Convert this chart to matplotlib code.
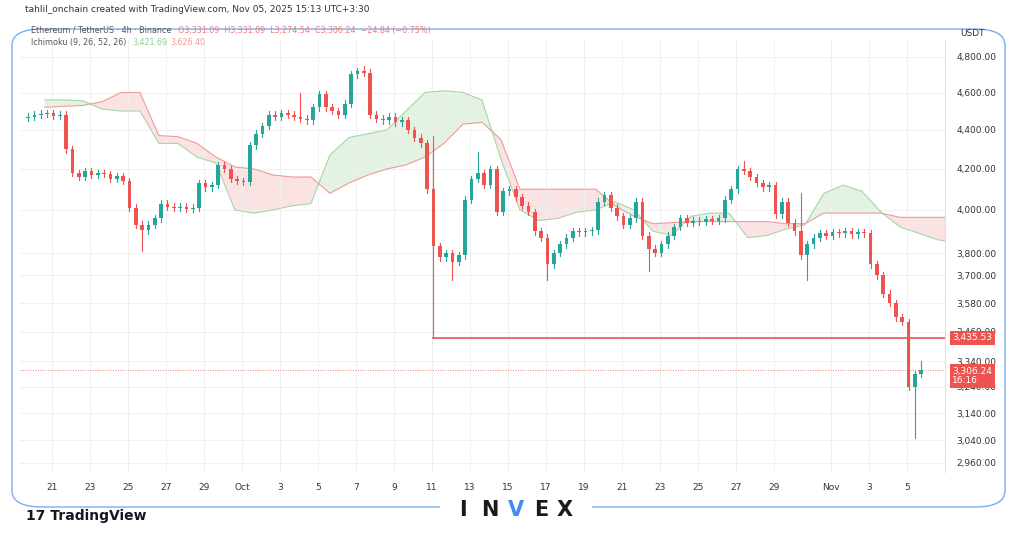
import matplotlib.pyplot as plt
import numpy as np
from matplotlib.patches import FancyBboxPatch, Rectangle
from matplotlib.ticker import FixedLocator, NullLocator

UP = "#26a69a"
DOWN = "#ef5350"

# 8h closes, Sep 19.6 -> Nov 5
closes = [
    4470, 4480, 4485, 4490, 4475, 4480, 4300, 4180, 4160, 4190, 4170, 4180,
    4175, 4150, 4165, 4140, 4010, 3930, 3905, 3930, 3960, 4030, 4015, 4010,
    4015, 4005, 4010, 4130, 4110, 4120, 4220, 4200, 4150, 4140, 4135, 4320,
    4380, 4420, 4480, 4470, 4490, 4480, 4470, 4460, 4450, 4520, 4590, 4520,
    4500, 4480, 4540, 4700, 4720, 4710, 4480, 4460, 4450, 4470, 4440, 4450,
    4400, 4360, 4330, 4100, 3830, 3780, 3800, 3760, 3790, 4050, 4150, 4180,
    4120, 4200, 3990, 4090, 4100, 4060, 4020, 3990, 3900, 3870, 3750, 3800,
    3840, 3870, 3900, 3895, 3900, 3905, 4040, 4070, 4010, 3970, 3930, 3960,
    4040, 3880, 3820, 3800, 3840, 3880, 3920, 3960, 3940, 3950, 3945, 3955,
    3950, 3960, 4050, 4100, 4200, 4190, 4160, 4130, 4110, 4120, 3980, 4040,
    3940, 3900, 3790, 3840, 3870, 3890, 3880, 3895, 3890, 3900, 3885, 3895,
    3890, 3750, 3700, 3620, 3580, 3520, 3500, 3240, 3290, 3306.24,
]
first_open = 4465
# notable wick extremes (candle index -> price)
wick_highs = {43: 4600, 53: 4750, 64: 4370, 71: 4285, 113: 4240, 122: 4080, 141: 3340}
wick_lows = {18: 3810, 64: 3435, 67: 3680, 82: 3680, 98: 3720, 123: 3680, 140: 3050}

# ichimoku cloud, sampled once a day
cloud_days = [-10.37 + k for k in range(48)] + [37.0]
span_a = [4560, 4560, 4555, 4510, 4500, 4500, 4330, 4330, 4260, 4230, 4000, 3985,
          4000, 4020, 4030, 4270, 4360, 4380, 4400, 4500, 4600, 4610, 4600, 4560,
          4250, 4000, 3950, 3960, 3990, 4000, 4040, 4000, 3900, 3880, 3970, 3985,
          3985, 3870, 3880, 3910, 3930, 4080, 4120, 4090, 3990, 3920, 3890, 3860, 3855]
span_b = [4520, 4525, 4530, 4550, 4600, 4600, 4370, 4365, 4330, 4260, 4210, 4200,
          4170, 4160, 4160, 4080, 4130, 4170, 4200, 4220, 4260, 4330, 4430, 4440,
          4350, 4100, 4100, 4100, 4100, 4100, 4020, 3970, 3935, 3940, 3945, 3945,
          3945, 3945, 3945, 3935, 3935, 3985, 3985, 3985, 3985, 3965, 3965, 3965, 3965]

y_ticks = [4800, 4600, 4400, 4200, 4000, 3800, 3700, 3580, 3460, 3340, 3240, 3140, 3040, 2960]
x_tick_days = [-10, -8, -6, -4, -2, 0, 2, 4, 6, 8, 10, 12, 14, 16, 18, 20, 22, 24, 26, 28, 31, 33, 35]
x_tick_labels = ["21", "23", "25", "27", "29", "Oct", "3", "5", "7", "9", "11", "13", "15",
                 "17", "19", "21", "23", "25", "27", "29", "Nov", "3", "5"]

fig = plt.figure(figsize=(10.24, 5.38), dpi=100)
ax = fig.add_axes([20 / 1024, 1 - 472 / 538, 925 / 1024, 432 / 538])
ax.set_yscale("log")
ax.set_ylim(2928, 4897)
ax.set_xlim(-11.68, 37.0)

# cloud
cd = np.array(cloud_days)
a = np.array(span_a, float)
b = np.array(span_b, float)
ax.fill_between(cd, a, b, where=a >= b, interpolate=True, color="#c8e6c9", alpha=0.5, lw=0)
ax.fill_between(cd, a, b, where=a < b, interpolate=True, color="#f8c9c9", alpha=0.5, lw=0)
ax.plot(cd, a, color="#a5d6a7", lw=0.8)
ax.plot(cd, b, color="#ef9a9a", lw=0.8)

# candles
opens = [first_open] + closes[:-1]
w = 1 / 3 * 0.6
for i, (o, c) in enumerate(zip(opens, closes)):
    x = -11.42 + (i + 0.5) / 3
    col = UP if c >= o else DOWN
    hi = wick_highs.get(i, max(o, c) * 1.004)
    lo = wick_lows.get(i, min(o, c) * 0.996)
    ax.plot([x, x], [lo, hi], color=col, lw=0.8, zorder=3)
    bot, top = min(o, c), max(o, c)
    if top - bot < 3:
        top = bot + 3
    ax.add_patch(Rectangle((x - w / 2, bot), w, top - bot, color=col, zorder=4, lw=0))

# drawn level and last price
level = 3435.53
ax.plot([-11.42 + 64.5 / 3, 37.0], [level, level], color=DOWN, lw=1.2, zorder=5)
ax.axhline(closes[-1], color=DOWN, lw=0.6, ls=(0, (1, 2)), zorder=2)

ax.yaxis.tick_right()
ax.yaxis.set_major_locator(FixedLocator(y_ticks))
ax.yaxis.set_minor_locator(NullLocator())
ax.set_yticklabels([f"{v:,.2f}" for v in y_ticks], fontsize=6.5, color="#333333")
ax.xaxis.set_major_locator(FixedLocator(x_tick_days))
ax.set_xticklabels(x_tick_labels, fontsize=6.5, color="#333333")
ax.tick_params(length=0, pad=8)
ax.grid(True, color="#f0f0f0", lw=0.7)
for s in ax.spines.values():
    s.set_visible(False)
ax.spines["right"].set_visible(True)
ax.spines["right"].set_color("#e0e0e0")

# price tags
tag = dict(color="white", fontsize=6.5, ha="left", va="center", transform=ax.get_yaxis_transform(),
           zorder=10)
ax.text(1.008, level, "3,435.53", bbox=dict(boxstyle="square,pad=0.3", fc=DOWN, ec="none"), **tag)
ax.text(1.008, closes[-1] * 0.993, "3,306.24\n16:16", linespacing=1.1,
        bbox=dict(boxstyle="square,pad=0.3", fc=DOWN, ec="none"), **tag)

# header texts
fig.text(25 / 1024, 1 - 10 / 538, "tahlil_onchain created with TradingView.com, Nov 05, 2025 15:13 UTC+3:30",
         fontsize=6.5, color="#333333", va="center")
fig.text(31 / 1024, 1 - 30 / 538, "Ethereum / TetherUS · 4h · Binance", fontsize=5.8, color="#555555",
         va="center")
fig.text(178 / 1024, 1 - 30 / 538, "O3,331.09  H3,331.09  L3,274.54  C3,306.24  −24.84 (−0.75%)",
         fontsize=5.8, color="#ef7b7b", va="center")
fig.text(31 / 1024, 1 - 43 / 538, "Ichimoku (9, 26, 52, 26)", fontsize=5.8, color="#555555", va="center")
fig.text(132 / 1024, 1 - 43 / 538, "3,421.69", fontsize=5.8, color="#8fd08f", va="center")
fig.text(170 / 1024, 1 - 43 / 538, "3,626.40", fontsize=5.8, color="#ef9a9a", va="center")
fig.text(960 / 1024, 1 - 33 / 538, "USDT", fontsize=6.5, color="#333333", va="center")

# frame and watermark
fig.patches.append(FancyBboxPatch((12 / 1024, 1 - 507 / 538), 993 / 1024, 478 / 538,
                                  boxstyle="round,pad=0,rounding_size=0.03", transform=fig.transFigure,
                                  fc="none", ec="#7aaef0", lw=1.0, zorder=0))
fig.patches.append(Rectangle((440 / 1024, 1 - 512 / 538), 152 / 1024, 12 / 538,
                             transform=fig.transFigure, fc="white", ec="none", zorder=1))
for xs, letter, col in [(463, "I", "#1a1a1a"), (490, "N", "#1a1a1a"), (516, "V", "#3d8ef0"),
                        (541, "E", "#1a1a1a"), (565, "X", "#1a1a1a")]:
    fig.text(xs / 1024, 1 - 510 / 538, letter, fontsize=15, fontweight="bold", color=col,
             ha="center", va="center", zorder=3)
fig.text(26 / 1024, 1 - 516 / 538, "17 TradingView", fontsize=10, fontweight="bold", color="#131722",
         va="center")

fig.savefig("out.png", dpi=100, facecolor="white")
